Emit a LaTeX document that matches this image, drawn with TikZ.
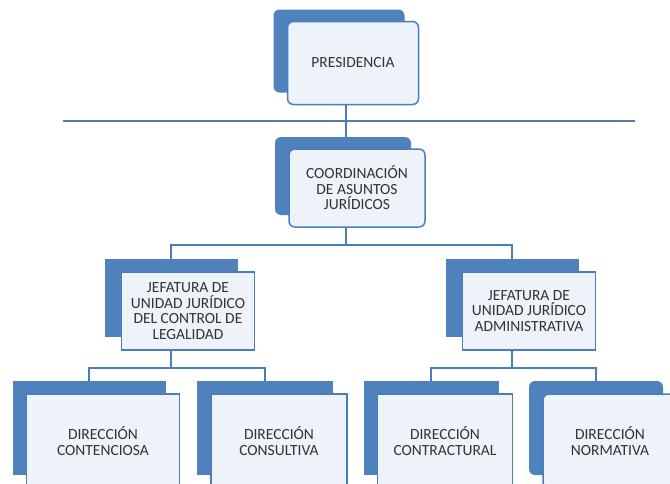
\documentclass[tikz,border=0pt]{standalone}
\usepackage{fontspec}
\setmainfont{Carlito}
\usetikzlibrary{positioning,calc}
\definecolor{azul}{HTML}{4F81BD}
\definecolor{borde}{HTML}{4A7EBB}
\definecolor{fondo}{HTML}{EEF2F9}
\definecolor{linea}{HTML}{5B7BA3}
\definecolor{texto}{HTML}{333333}

\begin{document}
\begin{tikzpicture}[x=1pt,y=-1pt,
	atras/.style={fill=azul,draw=none,inner sep=0pt},
	frente/.style={fill=fondo,draw=borde,line width=1.5pt,inner sep=0pt,align=center,
		text=texto,font=\fontsize{15.5}{15.5}\selectfont},
	redondo/.style={rounded corners=6pt},
	conector/.style={draw=borde,line width=1.8pt}]
	\useasboundingbox (0,0) rectangle (670,483);
	\clip (0,0) rectangle (670,483);
	% presidencia
	\node[atras,redondo,minimum width=131pt,minimum height=83pt] (presA) at (339,51) {};
	\node[frente,redondo,minimum width=131pt,minimum height=83pt] (pres) at ([shift={(14,12)}]presA.center) {PRESIDENCIA};
	% coordinacion
	\node[atras,redondo,minimum width=136pt,minimum height=78pt] (coordA) at (343,176) {};
	\node[frente,redondo,minimum width=136pt,minimum height=78pt] (coord) at ([shift={(14,12)}]coordA.center) {COORDINACIÓN\\DE ASUNTOS\\JURÍDICOS};
	% jefaturas
	\node[atras,minimum width=133pt,minimum height=78pt] (jefLA) at (171,298) {};
	\node[frente,minimum width=133pt,minimum height=78pt] (jefL) at ([shift={(17,13)}]jefLA.center) {JEFATURA DE\\UNIDAD JURÍDICO\\DEL CONTROL DE\\LEGALIDAD};
	\node[atras,minimum width=133pt,minimum height=78pt] (jefRA) at (512,298) {};
	\node[frente,minimum width=133pt,minimum height=78pt] (jefR) at ([shift={(17,13)}]jefRA.center) {JEFATURA DE\\UNIDAD JURÍDICO\\ADMINISTRATIVA};
	% direcciones
	\node[atras,minimum width=153pt,minimum height=94pt] (contA) at (89,428) {};
	\node[frente,minimum width=153pt,minimum height=94pt] (cont) at ([shift={(14,13)}]contA.center) {DIRECCIÓN\\CONTENCIOSA};
	\node[atras,minimum width=136pt,minimum height=94pt] (consA) at (265,428) {};
	\node[frente,minimum width=136pt,minimum height=94pt] (cons) at ([shift={(14,13)}]consA.center) {DIRECCIÓN\\CONSULTIVA};
	\node[atras,minimum width=135pt,minimum height=94pt] (contrA) at (431,428) {};
	\node[frente,minimum width=135pt,minimum height=94pt] (contr) at ([shift={(14,13)}]contrA.center) {DIRECCIÓN\\CONTRACTURAL};
	\node[atras,redondo,minimum width=134pt,minimum height=94pt] (normA) at (596,428) {};
	\node[frente,redondo,minimum width=134pt,minimum height=94pt] (norm) at ([shift={(14,13)}]normA.center) {DIRECCIÓN\\NORMATIVA};
	% lineas
	\coordinate (eje) at (346,0);
	\coordinate (barraI) at (63,121);
	\coordinate (barraD) at (635,121);
	\coordinate (bus1) at (0,245);
	\coordinate (bus2) at (0,368);
	\draw[conector] (pres.south -| eje) -- (coordA.north -| eje);
	\draw[draw=linea,line width=2pt] (barraI) -- (barraD);
	\draw[conector] (coord.south -| eje) -- (bus1 -| eje);
	\draw[conector] (jefLA.north) |- (bus1 -| eje) -| (jefRA.north);
	\draw[conector] (jefL.south -| jefLA) -- (bus2 -| jefLA);
	\draw[conector] (contA.north) |- (bus2 -| jefLA) -| (consA.north);
	\draw[conector] (jefR.south -| jefRA) -- (bus2 -| jefRA);
	\draw[conector] (contrA.north) |- (bus2 -| jefRA) -| (normA.north);
\end{tikzpicture}
\end{document}
